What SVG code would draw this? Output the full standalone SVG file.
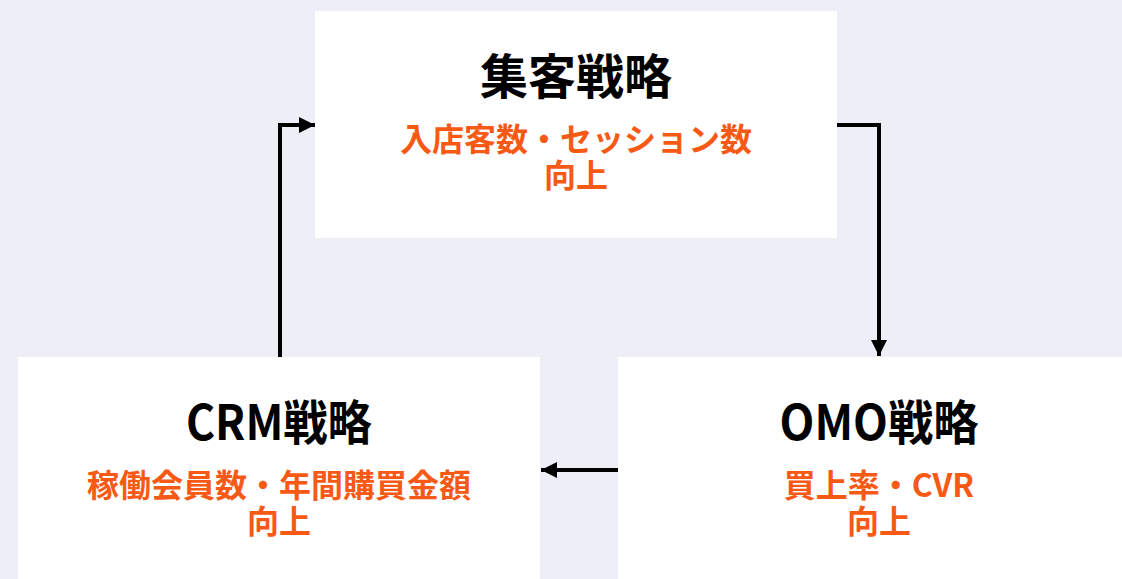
<svg xmlns="http://www.w3.org/2000/svg" width="1122" height="579" viewBox="0 0 1122 579">
<style>
.box{fill:#ffffff}
.title{font-family:"Noto Sans CJK JP","Noto Sans",sans-serif;font-weight:bold;font-size:48px;fill:#000000;text-anchor:middle}
.sub{font-family:"Noto Sans CJK JP","Noto Sans",sans-serif;font-weight:bold;font-size:32px;fill:#F85A16;text-anchor:middle}
.conn{fill:none;stroke:#000000;stroke-width:4}
</style>
<defs>
<marker id="arr" markerWidth="4" markerHeight="4" refX="4" refY="2" orient="auto" markerUnits="strokeWidth">
<path d="M0,0 L4,2 L0,4 Z" fill="#000000"/>
</marker>
</defs>
<rect width="1122" height="579" fill="#EEEEF7"/>
<g id="node-shukyaku">
<rect class="box" x="315" y="11" width="522" height="227"/>
<text class="title" x="576" y="94">集客戦略</text>
<text class="sub"><tspan x="576" y="151">入店客数・セッション数</tspan><tspan x="576" y="187">向上</tspan></text>
</g>
<g id="node-crm">
<rect class="box" x="18" y="357" width="522" height="227"/>
<text class="title" x="279" y="440" textLength="186" lengthAdjust="spacingAndGlyphs">CRM戦略</text>
<text class="sub"><tspan x="279" y="497">稼働会員数・年間購買金額</tspan><tspan x="279" y="533">向上</tspan></text>
</g>
<g id="node-omo">
<rect class="box" x="618" y="357" width="522" height="227"/>
<text class="title" x="879" y="440" textLength="199" lengthAdjust="spacingAndGlyphs">OMO戦略</text>
<text class="sub"><tspan x="879" y="497">買上率・CVR</tspan><tspan x="879" y="533">向上</tspan></text>
</g>
<g id="connectors">
<path class="conn" d="M837,125 H879 V356" marker-end="url(#arr)"/>
<path class="conn" d="M618,470 H541" marker-end="url(#arr)"/>
<path class="conn" d="M280,357 V125 H315" marker-end="url(#arr)"/>
</g>
</svg>
